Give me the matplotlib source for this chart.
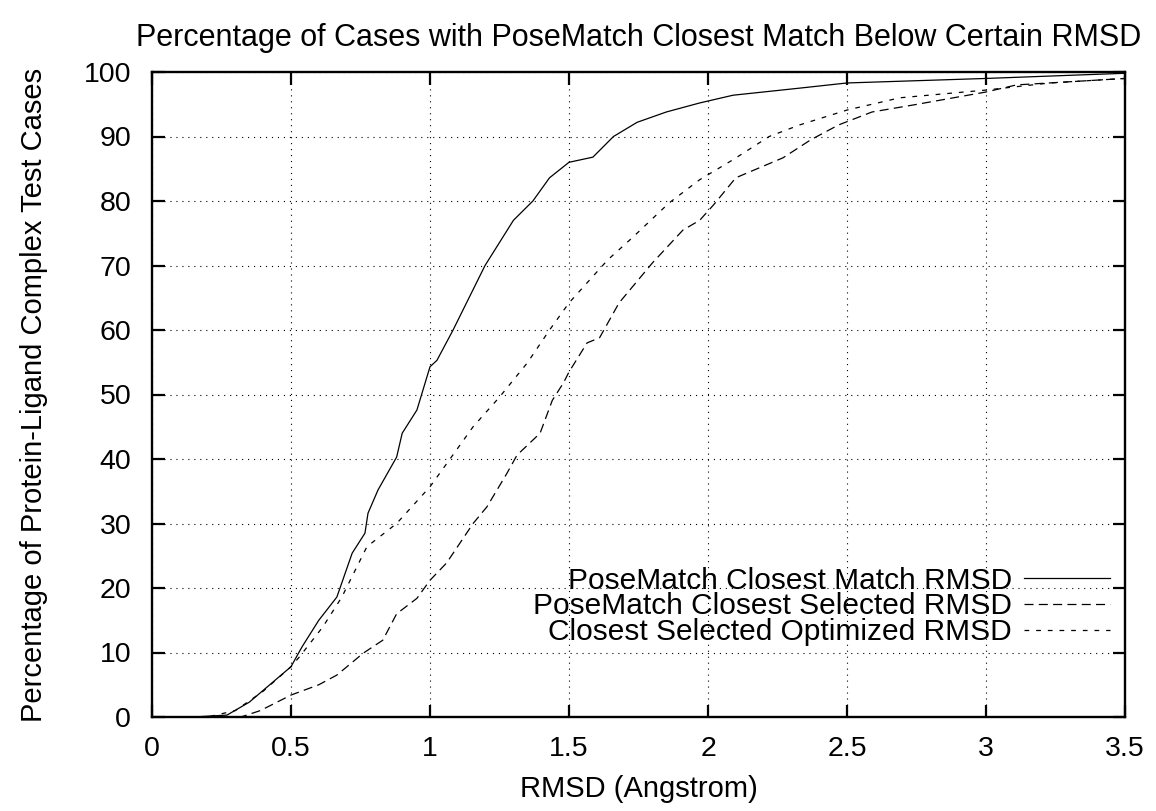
import matplotlib.pyplot as plt

plt.rcParams['font.family'] = ['Liberation Sans', 'DejaVu Sans']
plt.rcParams['lines.scale_dashes'] = False

# Curves (RMSD in Angstrom, percent of cases)
match_x = [0.0, 0.15, 0.27, 0.35, 0.41, 0.50, 0.54, 0.60, 0.665, 0.72, 0.766, 0.777, 0.813,
           0.88, 0.90, 0.953, 1.0, 1.025, 1.083, 1.137, 1.198, 1.30, 1.37, 1.43, 1.50, 1.586,
           1.66, 1.745, 1.85, 1.97, 2.09, 2.33, 2.50, 3.0, 3.31, 3.5]
match_y = [0.0, 0.0, 0.3, 2.3, 4.5, 7.8, 10.9, 15.0, 18.6, 25.4, 28.5, 31.6, 35.2,
           40.3, 44.0, 47.6, 54.3, 55.3, 60.0, 64.7, 70.0, 77.0, 80.0, 83.6, 86.0, 86.8,
           90.0, 92.2, 93.8, 95.2, 96.4, 97.5, 98.3, 99.0, 99.5, 99.8]

selected_x = [0.0, 0.32, 0.39, 0.50, 0.60, 0.665, 0.76, 0.83, 0.88, 0.953, 1.0, 1.06, 1.155,
              1.205, 1.277, 1.313, 1.396, 1.44, 1.48, 1.50, 1.565, 1.61, 1.68, 1.80, 1.91,
              1.97, 2.02, 2.10, 2.27, 2.37, 2.47, 2.59, 2.74, 3.0, 3.11, 3.5]
selected_y = [0.0, 0.0, 1.0, 3.4, 5.0, 6.5, 9.9, 11.9, 16.0, 18.4, 21.2, 23.9, 30.0,
              32.6, 37.8, 40.6, 44.0, 49.1, 51.8, 53.5, 58.0, 58.8, 64.2, 70.4, 75.5,
              77.0, 79.4, 83.6, 86.7, 89.5, 91.8, 93.8, 94.9, 96.9, 98.0, 99.0]

optimized_x = [0.0, 0.2, 0.30, 0.40, 0.50, 0.53, 0.615, 0.683, 0.773, 0.88, 1.0, 1.072, 1.155,
               1.25, 1.35, 1.43, 1.50, 1.64, 1.73, 1.86, 1.97, 2.09, 2.22, 2.33, 2.50, 2.69,
               3.0, 3.23, 3.5]
optimized_y = [0.0, 0.0, 1.0, 4.0, 7.8, 9.3, 14.0, 18.6, 26.4, 30.0, 35.7, 40.0, 45.0,
               49.6, 54.9, 60.0, 64.2, 70.9, 74.4, 79.7, 83.3, 86.4, 90.0, 91.8, 94.1, 96.0,
               97.2, 98.3, 99.0]

fig = plt.figure(figsize=(11.56, 8.11), dpi=100)
ax = fig.add_axes([152 / 1156, 1 - 717 / 811, (1125 - 152) / 1156, (717 - 72) / 811])

ax.plot(match_x, match_y, color='black', lw=0.9, label='PoseMatch Closest Match RMSD')
ax.plot(selected_x, selected_y, color='black', lw=0.9, dashes=(6.5, 3.8),
        label='PoseMatch Closest Selected RMSD')
ax.plot(optimized_x, optimized_y, color='black', lw=0.9, dashes=(3.4, 5.0),
        label='Closest Selected Optimized RMSD')

ax.set_xlim(0, 3.5)
ax.set_ylim(0, 100)
ax.set_xticks([0, 0.5, 1, 1.5, 2, 2.5, 3, 3.5])
ax.set_xticklabels(['0', '0.5', '1', '1.5', '2', '2.5', '3', '3.5'])
ax.set_yticks(range(0, 101, 10))
ax.grid(True, color='black', linestyle=(0, (0.8, 3.5)), linewidth=0.8)
ax.tick_params(direction='in', length=9, width=1.6, top=True, right=True, labelsize=20.5)
ax.tick_params(axis='x', pad=14)
ax.tick_params(axis='y', pad=15)
for s in ax.spines.values():
    s.set_linewidth(1.7)

ax.set_title('Percentage of Cases with PoseMatch Closest Match Below Certain RMSD',
             fontsize=22, pad=19)
ax.set_xlabel('RMSD (Angstrom)', fontsize=21, labelpad=9)
ax.set_ylabel('Percentage of Protein-Ligand Complex Test Cases', fontsize=21, labelpad=26)

ax.legend(loc='lower right', bbox_to_anchor=(0.985, 0.11), frameon=False, markerfirst=False,
          fontsize=21.5, handlelength=2.9, labelspacing=-0.08, handletextpad=0.4,
          borderpad=0, borderaxespad=0)

fig.savefig('out.png', dpi=100)
